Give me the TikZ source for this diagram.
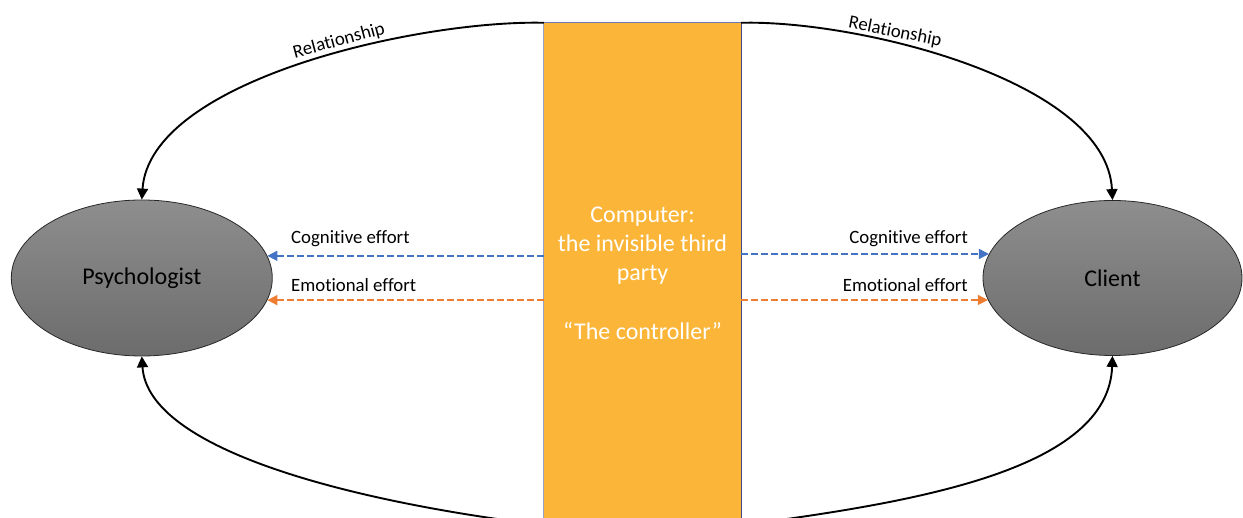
\documentclass[tikz,border=0pt]{standalone}
\usepackage{fontspec}
\setmainfont{Carlito}[Ligatures={NoCommon}]
\usetikzlibrary{shapes.geometric,arrows.meta}

\definecolor{barfill}{RGB}{251,181,57}
\definecolor{barleft}{RGB}{150,160,200}
\definecolor{barright}{RGB}{70,70,140}
\definecolor{bartop}{RGB}{110,120,170}
\definecolor{cogblue}{RGB}{68,114,196}
\definecolor{emoorange}{RGB}{237,125,49}
\definecolor{shadetop}{RGB}{142,142,142}
\definecolor{shadebottom}{RGB}{108,108,108}
\definecolor{ellipseline}{RGB}{40,40,40}

\tikzset{
  party/.style={ellipse, draw=ellipseline, line width=0.8pt,
    top color=shadetop, bottom color=shadebottom,
    minimum width=261pt, minimum height=156pt, inner sep=0pt,
    font=\fontsize{24}{28}\selectfont, text=black},
  bar/.style={rectangle, fill=barfill, draw=none, inner sep=0pt,
    minimum width=197pt, minimum height=502pt},
  bartext/.style={align=center, text=white,
    font=\fontsize{24}{29.3}\selectfont},
  effortlabel/.style={font=\fontsize{18.8}{22}\selectfont, inner sep=0pt},
  rellabel/.style={font=\fontsize{18.8}{22}\selectfont, inner sep=0pt},
  relarrow/.style={line width=1.9pt, -{Triangle[length=11pt,width=11pt]}},
  cogarrow/.style={draw=cogblue, line width=1.6pt, dash pattern=on 6.5pt off 3.5pt,
    -{Triangle[length=10pt,width=10pt,fill=cogblue]}},
  emoarrow/.style={draw=emoorange, line width=1.6pt, dash pattern=on 6.5pt off 3.5pt,
    -{Triangle[length=10pt,width=10pt,fill=emoorange]}}
}

\begin{document}
\begin{tikzpicture}[x=1pt, y=-1pt]
  \useasboundingbox (0,0) rectangle (1243,518);
  \clip (0,0) rectangle (1243,518);

  % central column
  \node[bar] (ctr) at (642.5,274) {};
  \draw[barleft, line width=1.2pt] (ctr.south west) -- (ctr.north west);
  \draw[barright, line width=1.2pt] (ctr.south east) -- (ctr.north east);
  \draw[bartop, line width=1.2pt] (ctr.north west) -- (ctr.north east);
  \node[bartext] (ctrtext) at (642.5,273)
    {Computer:\\the invisible third\\party\\[29.3pt]“The controller”};

  % the two parties
  \node[party] (psy) at (141.8,278) {Psychologist};
  \node[party, minimum width=259pt, minimum height=155pt] (cli) at (1112.5,278) {Client};

  % relationship arcs
  \draw[relarrow] (ctr.north west) .. controls +(-124,-3) and +(8,-120) .. (psy.north);
  \draw[relarrow] (ctr.north east) .. controls +(115,-3) and +(-6,-120) .. (cli.north);
  \draw[relarrow] (ctr.south west) .. controls +(-190,-23) and +(6,94) .. (psy.south);
  \draw[relarrow] (ctr.south east) .. controls +(175,-23) and +(-4,114) .. (cli.south);

  \node[rellabel, rotate=15] (relL) at (339,41) {Relationship};
  \node[rellabel, rotate=-11] (relR) at (895,32) {Relationship};

  % effort arrows
  \coordinate (psyCog) at (psy.10.7);
  \coordinate (psyEmo) at (psy.-10.4);
  \coordinate (cliCog) at (cli.169.3);
  \coordinate (cliEmo) at (cli.190.6);

  \draw[cogarrow] (ctr.west |- psyCog) -- (psyCog);
  \draw[emoarrow] (ctr.west |- psyEmo) -- (psyEmo);
  \draw[cogarrow] (ctr.east |- cliCog) -- (cliCog);
  \draw[emoarrow] (ctr.east |- cliEmo) -- (cliEmo);

  \node[effortlabel, anchor=base west] (cogL) at (291,243.5) {Cognitive effort};
  \node[effortlabel, anchor=base west] (emoL) at (291,291.5) {Emotional effort};
  \node[effortlabel, anchor=base east] (cogR) at (968,243.5) {Cognitive effort};
  \node[effortlabel, anchor=base east] (emoR) at (968,291.5) {Emotional effort};
\end{tikzpicture}
\end{document}
